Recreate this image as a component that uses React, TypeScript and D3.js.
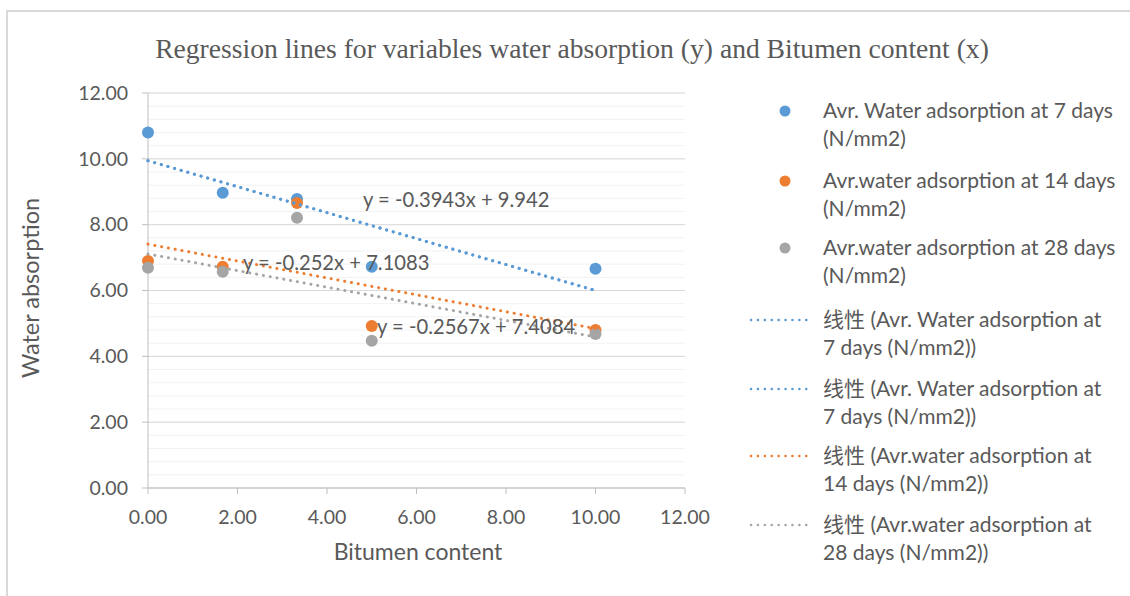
import React from "react";
import * as d3 from "d3";

const xValues = [0, 1.67, 3.33, 5, 10];
const days7 = [10.8, 8.97, 8.78, 6.72, 6.66];
const days14 = [6.9, 6.72, 8.66, 4.92, 4.8];
const days28 = [6.69, 6.57, 8.21, 4.47, 4.68];

const seriesNames = [
  "Avr. Water adsorption at 7 days (N/mm2)",
  "Avr.water adsorption at 14 days (N/mm2)",
  "Avr.water adsorption at 28 days (N/mm2)",
];
const colors = ["#5B9BD5", "#ED7D31", "#A5A5A5"];

// trendline coefficients [slope, intercept]
const trendSlopes = [-0.3943, -0.3943, -0.2567, -0.252];
const trendIntercepts = [9.942, 9.942, 7.4084, 7.1083];
const trendColorIdx = [0, 0, 1, 2];
const equationTexts = ["y = -0.3943x + 9.942", "y = -0.252x + 7.1083", "y = -0.2567x + 7.4084"];

const xTicks = [0, 2, 4, 6, 8, 10, 12];
const yTicks = [0, 2, 4, 6, 8, 10, 12];

const legendLines: string[][] = [
  ["Avr. Water adsorption at 7 days", "(N/mm2)"],
  ["Avr.water adsorption at 14 days", "(N/mm2)"],
  ["Avr.water adsorption at 28 days", "(N/mm2)"],
  ["线性 (Avr. Water adsorption at", "7 days (N/mm2))"],
  ["线性 (Avr. Water adsorption at", "7 days (N/mm2))"],
  ["线性 (Avr.water adsorption at", "14 days (N/mm2))"],
  ["线性 (Avr.water adsorption at", "28 days (N/mm2))"],
];

const title = "Regression lines for variables water absorption (y) and Bitumen content (x)";

export default function App() {
  const W = 1130, H = 596;
  const x = d3.scaleLinear().domain([0, 12]).range([148, 685]);
  const y = d3.scaleLinear().domain([0, 12]).range([488, 93]);
  const minorTicks = d3.range(0, 12.001, 0.4);
  const font = "Lato, 'Open Sans', sans-serif";
  const textColor = "#595959";
  const series = [days7, days14, days28];

  const eqPos = [
    { x: 363, y: 200 },
    { x: 243, y: 263 },
    { x: 377, y: 327 },
  ];
  const legendRowY = [111, 181, 248, 320, 389, 456, 525];
  const legendLineGap = 27.5;

  return (
    <svg width={W} height={H} style={{ position: "absolute", left: 0, top: 0 }} fontFamily={font}>
      <rect x={0} y={0} width={W} height={H} fill="#fff" />
      <rect x={7} y={11} width={W + 20} height={H + 20} fill="#fff" stroke="#D9D9D9" strokeWidth={2} />
      <text x={572} y={48} textAnchor="middle" dy="0.35em" fontFamily="'Liberation Serif', 'Times New Roman', serif" fontSize={27.6} fill={textColor}>
        {title}
      </text>
      {/* minor gridlines */}
      {minorTicks.map((t, i) => (
        <line key={"m" + i} x1={x(0)} x2={x(12)} y1={y(t)} y2={y(t)} stroke="#F2F2F2" strokeWidth={1} />
      ))}
      {yTicks.map((t) => (
        <line key={"g" + t} x1={x(0)} x2={x(12)} y1={y(t)} y2={y(t)} stroke="#D9D9D9" strokeWidth={1} />
      ))}
      {/* axes */}
      <line x1={x(0)} x2={x(0)} y1={y(0)} y2={y(12)} stroke="#BFBFBF" strokeWidth={1} />
      <line x1={x(0)} x2={x(12)} y1={y(0)} y2={y(0)} stroke="#BFBFBF" strokeWidth={1} />
      {yTicks.map((t) => (
        <g key={"yt" + t}>
          <line x1={x(0) - 6} x2={x(0)} y1={y(t)} y2={y(t)} stroke="#BFBFBF" />
          <text x={128} y={y(t)} dy="0.35em" textAnchor="end" fontSize={19.5} fill={textColor}>
            {d3.format(".2f")(t)}
          </text>
        </g>
      ))}
      {xTicks.map((t) => (
        <g key={"xt" + t}>
          <line x1={x(t)} x2={x(t)} y1={y(0)} y2={y(0) + 6} stroke="#BFBFBF" />
          <text x={x(t)} y={517} dy="0.35em" textAnchor="middle" fontSize={19.5} fill={textColor}>
            {d3.format(".2f")(t)}
          </text>
        </g>
      ))}
      <text x={418} y={552} dy="0.35em" textAnchor="middle" fontSize={23} fill={textColor}>
        Bitumen content
      </text>
      <text transform={`translate(31,${288}) rotate(-90)`} dy="0.35em" textAnchor="middle" fontSize={23.5} fill={textColor}>
        Water absorption
      </text>
      {/* markers */}
      {series.map((s, si) =>
        s.map((v, i) => <circle key={si + "-" + i} cx={x(xValues[i])} cy={y(v)} r={6} fill={colors[si]} />)
      )}
      {/* trendlines */}
      {trendSlopes.map((m, i) => {
        const x0 = d3.min(xValues)!;
        const x1 = d3.max(xValues)!;
        const pts: [number, number][] = [
          [x(x0), y(m * x0 + trendIntercepts[i])],
          [x(x1), y(m * x1 + trendIntercepts[i])],
        ];
        return (
          <path
            key={"tr" + i}
            d={d3.line()(pts) || ""}
            stroke={colors[trendColorIdx[i]]}
            strokeWidth={3}
            strokeDasharray="0.1 6.8"
            strokeLinecap="round"
            fill="none"
          />
        );
      })}
      {equationTexts.map((t, i) => (
        <text key={"eq" + i} x={eqPos[i].x} y={eqPos[i].y} dy="0.35em" fontSize={20.2} fill={textColor}>
          {t}
        </text>
      ))}
      {/* legend */}
      {legendLines.map((lines, i) => (
        <g key={"lg" + i}>
          {i < 3 ? (
            <circle cx={785} cy={legendRowY[i]} r={5.5} fill={colors[i]} />
          ) : (
            <line
              x1={751}
              x2={812}
              y1={legendRowY[i]}
              y2={legendRowY[i]}
              stroke={colors[trendColorIdx[i - 3]]}
              strokeWidth={2.5}
              strokeDasharray="0.1 6.8"
              strokeLinecap="round"
            />
          )}
          {lines.map((l, j) => (
            <text key={j} x={823} y={legendRowY[i] + j * legendLineGap} dy="0.35em" fontSize={21} fill={textColor}>
              {l.startsWith("线性") ? (
                <>
                  <tspan fontFamily="'Noto Sans CJK SC', sans-serif">线性</tspan>
                  {l.slice(2)}
                </>
              ) : (
                l
              )}
            </text>
          ))}
        </g>
      ))}
    </svg>
  );
}
